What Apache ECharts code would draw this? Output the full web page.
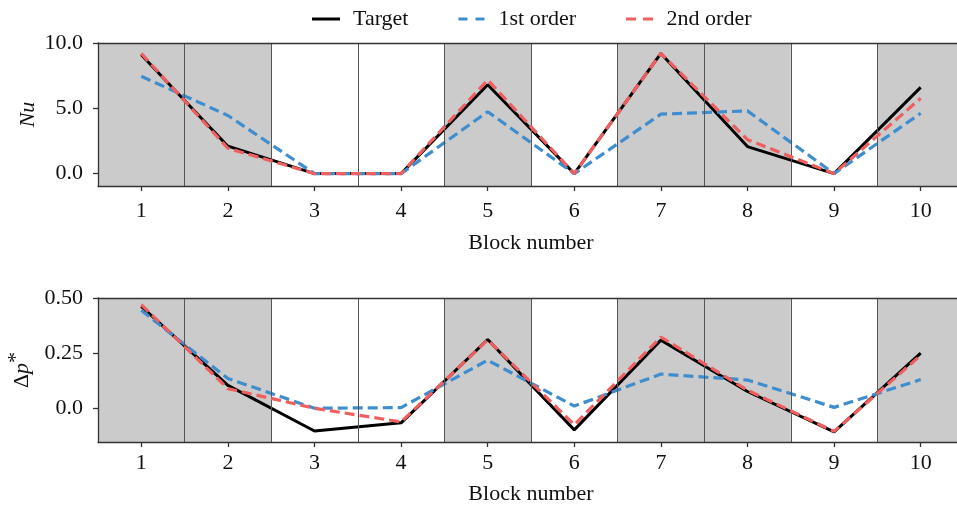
<!DOCTYPE html>
<html>
<head>
<meta charset="utf-8">
<script src="https://cdn.jsdelivr.net/npm/echarts@6/dist/echarts.min.js"></script>
<style>
  html, body { margin: 0; padding: 0; background: #fff; }
  #chart { width: 957px; height: 510px; }
</style>
</head>
<body>
<div id="chart"></div>
<script>
// Block indices along the channel
const blocks = [1, 2, 3, 4, 5, 6, 7, 8, 9, 10];

// Nusselt number per block
const nuTarget = [9.1, 2.1, 0, 0, 6.8, 0, 9.2, 2.07, 0, 6.6];
const nuFirst  = [7.45, 4.45, 0, 0, 4.74, 0, 4.55, 4.8, 0, 4.62];
const nuSecond = [9.2, 1.94, 0, 0, 7.17, 0, 9.2, 2.6, 0, 5.77];

// Dimensionless pressure drop per block
const dpTarget = [0.462, 0.104, -0.103, -0.066, 0.312, -0.098, 0.309, 0.076, -0.107, 0.25];
const dpFirst  = [0.444, 0.135, 0.0, 0.003, 0.218, 0.01, 0.155, 0.128, 0.004, 0.13];
const dpSecond = [0.47, 0.089, 0.0, -0.062, 0.31, -0.075, 0.323, 0.082, -0.105, 0.24];

// Heated (shaded) block ranges and block boundaries
const shadedRanges = [[0.5, 2.5], [4.5, 5.5], [6.5, 8.5], [9.5, 10.5]];
const boundaries = [1.5, 2.5, 3.5, 4.5, 5.5, 6.5, 7.5, 8.5, 9.5];

// Y tick values and their labels
const nuTicks = [0, 5, 10];
const nuTickLabels = ['0.0', '5.0', '10.0'];
const dpTicks = [0, 0.25, 0.5];
const dpTickLabels = ['0.0', '0.25', '0.50'];

const seriesNames = ['Target', '1st order', '2nd order'];

const FONT = '"Liberation Serif", "Times New Roman", serif';
const AXIS_COLOR = '#333';
const colors = { target: '#000000', first: '#3e8ecf', second: '#ef5f5f' };

// Legend swatches: a solid bar and two-dash bars
const legendIcons = {
  'Target': 'path://M0,0h28v3h-28z',
  '1st order': 'path://M0,0h9v3h-9z M17,0h9v3h-9z',
  '2nd order': 'path://M0,0h10v3h-10z M17,0h10v3h-10z'
};

function pairs(ys) { return blocks.map((b, i) => [b, ys[i]]); }

function xAxisFor(gridIndex, labelMargin, nameGap) {
  return [{
    type: 'value', gridIndex, min: 0.5, max: 10.5, z: 10,
    name: 'Block number', nameLocation: 'middle', nameGap, nameMoveOverlap: false,
    nameTextStyle: { fontFamily: FONT, fontSize: 22, color: '#111' },
    axisLine: { show: true, onZero: false, lineStyle: { color: AXIS_COLOR, width: 1.3 } },
    axisTick: { show: true, length: 5, customValues: blocks, lineStyle: { color: AXIS_COLOR, width: 1.3 } },
    axisLabel: { customValues: blocks, margin: labelMargin, fontFamily: FONT, fontSize: 22, color: '#111' },
    splitLine: { show: false }
  }, {
    // top spine
    type: 'value', gridIndex, position: 'top', min: 0.5, max: 10.5, z: 10,
    axisLine: { show: true, onZero: false, lineStyle: { color: AXIS_COLOR, width: 1.3 } },
    axisTick: { show: false }, axisLabel: { show: false }, splitLine: { show: false }
  }];
}

function yAxisFor(gridIndex, min, max, ticks, labels, name, nameRich) {
  return {
    type: 'value', gridIndex, min, max, z: 10,
    name, nameLocation: 'middle', nameGap: 59, nameRotate: 90, nameMoveOverlap: false,
    nameTextStyle: Object.assign({ fontFamily: FONT, fontSize: 22, color: '#111' }, nameRich || {}),
    axisLine: { show: true, onZero: false, lineStyle: { color: AXIS_COLOR, width: 1.3 } },
    axisTick: { show: true, length: 5, customValues: ticks, lineStyle: { color: AXIS_COLOR, width: 1.3 } },
    axisLabel: {
      customValues: ticks, margin: 15, fontFamily: FONT, fontSize: 22, color: '#111',
      formatter: v => { const k = ticks.findIndex(t => Math.abs(t - v) < 1e-9); return k >= 0 ? labels[k] : ''; }
    },
    splitLine: { show: false }
  };
}

function background(xIdx, yIdx) {
  return {
    type: 'line', xAxisIndex: xIdx, yAxisIndex: yIdx, data: [], z: 1, silent: true,
    markArea: {
      silent: true,
      itemStyle: { color: '#cbcbcb' },
      data: shadedRanges.map(r => [{ xAxis: r[0] }, { xAxis: r[1] }])
    },
    markLine: {
      silent: true, symbol: ['none', 'none'], label: { show: false },
      lineStyle: { color: '#555', width: 1, type: 'solid' },
      data: boundaries.map(b => ({ xAxis: b }))
    }
  };
}

function lineSeries(name, data, color, dashed, xIdx, yIdx, z) {
  return {
    name, type: 'line', xAxisIndex: xIdx, yAxisIndex: yIdx, data: pairs(data), z,
    symbol: 'none', smooth: false, silent: true,
    lineStyle: { color, width: dashed ? 3.2 : 3, type: dashed ? [10, 5] : 'solid' },
    itemStyle: { color }
  };
}

const chart = echarts.init(document.getElementById('chart'), null, { renderer: 'canvas' });
chart.setOption({
  animation: false,
  backgroundColor: '#ffffff',
  legend: {
    data: seriesNames.map(n => ({ name: n, icon: legendIcons[n] })),
    left: 307, top: 3, itemWidth: 28, itemHeight: 3, itemGap: 50,
    textStyle: { fontFamily: FONT, fontSize: 22, color: '#111', padding: [0, 0, 0, 8] }
  },
  grid: [
    { left: 98, width: 866, top: 43, height: 143, outerBoundsMode: 'none', containLabel: false },
    { left: 98, width: 866, top: 298, height: 144, outerBoundsMode: 'none', containLabel: false }
  ],
  xAxis: [...xAxisFor(0, 14, 46), ...xAxisFor(1, 10, 41)],
  yAxis: [
    yAxisFor(0, -0.95, 10, nuTicks, nuTickLabels, 'Nu', { fontStyle: 'italic' }),
    yAxisFor(1, -0.153, 0.5, dpTicks, dpTickLabels, '{a|Δ}{b|p}{c|*}', {
      rich: {
        a: { fontFamily: FONT, fontSize: 22, color: '#111' },
        b: { fontFamily: FONT, fontSize: 22, fontStyle: 'italic', color: '#111' },
        c: { fontFamily: FONT, fontSize: 22, color: '#111', padding: [0, 0, 12, 0] }
      }
    })
  ],
  series: [
    background(0, 0),
    lineSeries('Target', nuTarget, colors.target, false, 0, 0, 3),
    lineSeries('1st order', nuFirst, colors.first, true, 0, 0, 4),
    lineSeries('2nd order', nuSecond, colors.second, true, 0, 0, 5),
    background(2, 1),
    lineSeries('Target', dpTarget, colors.target, false, 2, 1, 3),
    lineSeries('1st order', dpFirst, colors.first, true, 2, 1, 4),
    lineSeries('2nd order', dpSecond, colors.second, true, 2, 1, 5)
  ]
});
</script>
</body>
</html>
